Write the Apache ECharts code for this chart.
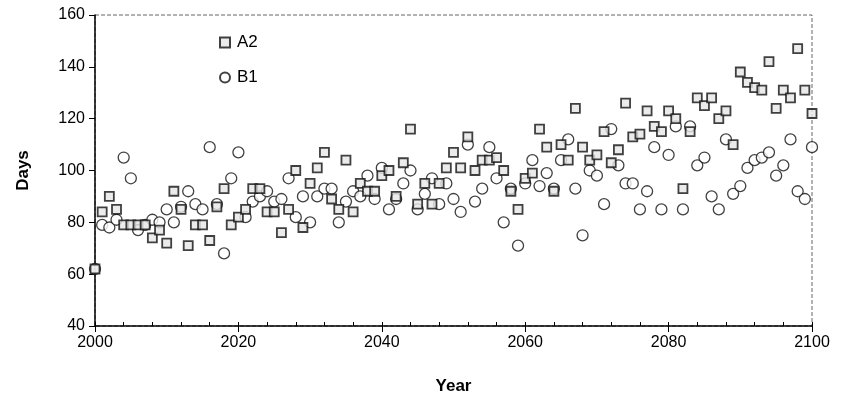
<!DOCTYPE html>
<html>
<head>
<meta charset="utf-8">
<script src="https://cdn.jsdelivr.net/npm/echarts@6/dist/echarts.min.js"></script>
<style>
  html, body { margin: 0; padding: 0; background: #fff; }
  #chart { width: 842px; height: 402px; }
</style>
</head>
<body>
<div id="chart"></div>
<script>
// years 2000..2100, one point per year for each scenario
const startYear = 2000
const a2Days = [
  62, 84, 90, 85, 79, 79, 79, 79, 74, 77,
  72, 92, 85, 71, 79, 79, 73, 86, 93, 79,
  82, 85, 93, 93, 84, 84, 76, 85, 100, 78,
  95, 101, 107, 89, 85, 104, 84, 95, 92, 92,
  98, 100, 90, 103, 116, 87, 95, 87, 95, 101,
  107, 101, 113, 100, 104, 104, 105, 100, 92, 85,
  97, 99, 116, 109, 92, 110, 104, 124, 109, 104,
  106, 115, 103, 108, 126, 113, 114, 123, 117, 115,
  123, 120, 93, 115, 128, 125, 128, 120, 123, 110,
  138, 134, 132, 131, 142, 124, 131, 128, 147, 131,
  122
]
const b1Days = [
  62, 79, 78, 81, 105, 97, 77, 79, 81, 80,
  85, 80, 86, 92, 87, 85, 109, 87, 68, 97,
  107, 82, 88, 90, 92, 88, 89, 97, 82, 90,
  80, 90, 93, 93, 80, 88, 92, 90, 98, 89,
  101, 85, 89, 95, 100, 85, 91, 97, 87, 95,
  89, 84, 110, 88, 93, 109, 97, 80, 93, 71,
  95, 104, 94, 99, 93, 104, 112, 93, 75, 100,
  98, 87, 116, 102, 95, 95, 85, 92, 109, 85,
  106, 117, 85, 117, 102, 105, 90, 85, 112, 91,
  94, 101, 104, 105, 107, 98, 102, 112, 92, 89,
  109
]
const xTicks = [2000, 2020, 2040, 2060, 2080, 2100]
const yTicks = [40, 60, 80, 100, 120, 140, 160]

const toPairs = arr => arr.map((v, i) => [startYear + i, v])

const chart = echarts.init(document.getElementById('chart'))
const font = 'Liberation Sans, Arial, sans-serif'

const option = {
  animation: false,
  backgroundColor: '#fff',
  textStyle: { fontFamily: font, color: '#000' },
  grid: {
    left: 95,
    right: 30,
    top: 15,
    bottom: 76,
    show: true,
    borderColor: '#666',
    borderWidth: 1,
    borderType: 'dashed'
  },
  legend: {
    orient: 'vertical',
    left: 214,
    top: 29,
    itemGap: 18,
    itemWidth: 10,
    itemHeight: 10,
    textStyle: { fontSize: 17, color: '#000', fontFamily: font, padding: [0, 0, 0, 2] },
    data: [
      { name: 'A2', icon: 'rect' },
      { name: 'B1', icon: 'circle' }
    ]
  },
  xAxis: [
    {
      type: 'value',
      min: xTicks[0],
      max: xTicks[xTicks.length - 1],
      interval: 20,
      name: 'Year',
      nameLocation: 'middle',
      nameGap: 52,
      nameTextStyle: { fontSize: 17, fontWeight: 'bold', color: '#000', fontFamily: font },
      axisLine: { show: true, lineStyle: { color: '#000', width: 1.5 } },
      axisTick: { show: true, inside: false, length: 6, lineStyle: { color: '#000' } },
      axisLabel: { fontSize: 16, color: '#000', margin: 9, fontFamily: font, formatter: v => String(v) },
      splitLine: { show: false }
    },
    {
      type: 'value',
      min: xTicks[0],
      max: xTicks[xTicks.length - 1],
      interval: 4,
      position: 'bottom',
      axisLine: { show: false },
      axisTick: { show: true, inside: true, length: 4, lineStyle: { color: '#000' } },
      axisLabel: { show: false },
      splitLine: { show: false }
    }
  ],
  yAxis: {
    type: 'value',
    min: yTicks[0],
    max: yTicks[yTicks.length - 1],
    interval: 20,
    name: 'Days',
    nameLocation: 'middle',
    nameGap: 63,
    nameRotate: 90,
    nameTextStyle: { fontSize: 17, fontWeight: 'bold', color: '#000', fontFamily: font },
    axisLine: { show: true, lineStyle: { color: '#000', width: 1.5 } },
    axisTick: { show: true, inside: false, length: 6, lineStyle: { color: '#000' } },
    axisLabel: { fontSize: 16, color: '#000', margin: 10, fontFamily: font },
    splitLine: { show: false }
  },
  series: [
    {
      name: 'B1',
      type: 'scatter',
      symbol: 'circle',
      symbolSize: 11,
      z: 2,
      itemStyle: { color: '#fff', borderColor: '#111', borderWidth: 1.3 },
      data: toPairs(b1Days)
    },
    {
      name: 'A2',
      type: 'scatter',
      symbol: 'rect',
      symbolSize: 9,
      z: 3,
      itemStyle: { color: '#e6e6e6', borderColor: '#111', borderWidth: 1.8 },
      data: toPairs(a2Days)
    }
  ]
}

chart.setOption(option)
</script>
</body>
</html>
